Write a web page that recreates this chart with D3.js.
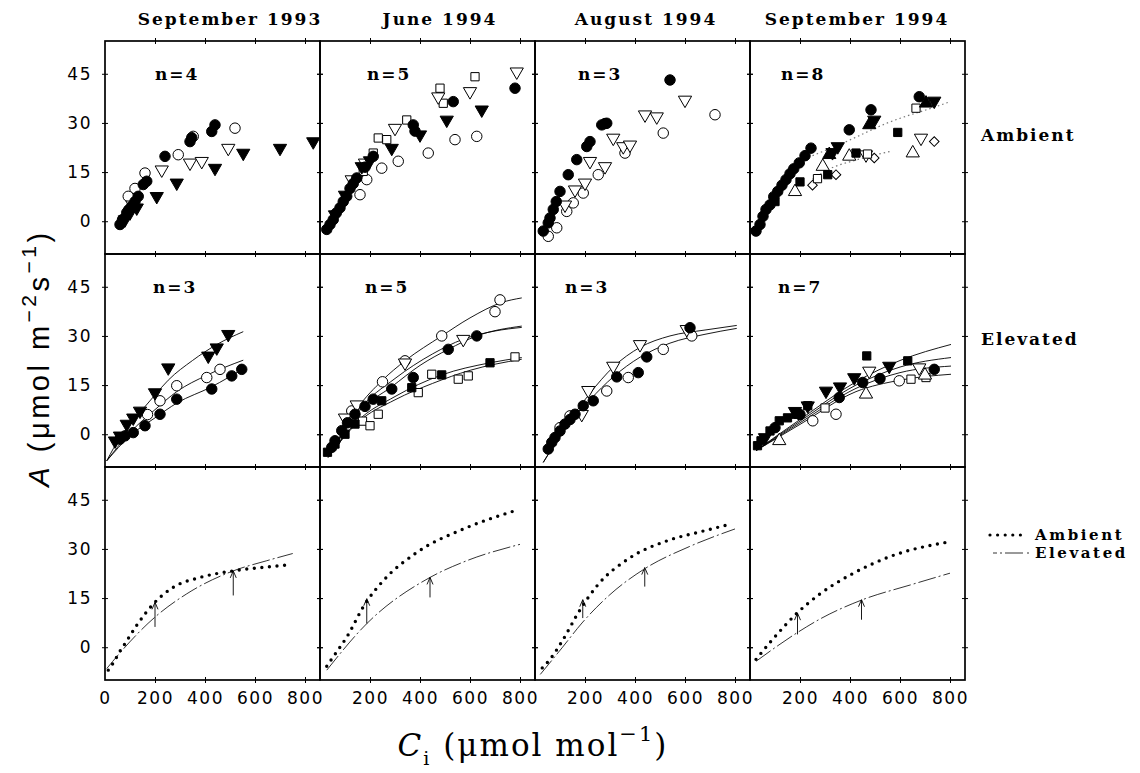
<!DOCTYPE html>
<html>
<head>
<meta charset="utf-8">
<script src="https://cdn.jsdelivr.net/npm/d3@7"></script>
<style>
  body { margin: 0; background: #fff; }
  svg { display: block; }
  .lab { font-family: 'DejaVu Serif', serif; font-weight: bold; font-size: 17px; letter-spacing: 2px; fill: #000; }
  .leg { font-family: 'DejaVu Serif', serif; font-weight: bold; font-size: 15px; letter-spacing: 2.6px; fill: #000; }
</style>
</head>
<body>
<svg id="chart" width="1140" height="773"></svg>
<script>
// ---- data ----
const months = ['September 1993', 'June 1994', 'August 1994', 'September 1994'];
const nAmbient = [4, 5, 3, 8];
const nElevated = [3, 5, 3, 7];
const xTicks = [0, 200, 400, 600, 800];
const yTicks = [0, 15, 30, 45];
const rowNames = ['Ambient', 'Elevated'];

// scatter points: [Ci, A, marker]
// f/o = filled/open; c circle, d down-triangle, u up-triangle, s square, q diamond
const ambSep93 = [
  [93, 7.6, 'oc'], [160, 14.7, 'oc'], [293, 20.3, 'oc'], [353, 25.9, 'oc'], [520, 28.4, 'oc'], [120, 10, 'oc'],
  [110, 5, 'od'], [227, 15.7, 'od'], [340, 17.8, 'od'], [387, 18.3, 'od'], [493, 22.3, 'od'],
  [80, 0.5, 'fd'], [100, 2.6, 'fd'], [127, 4.1, 'fd'], [207, 7.6, 'fd'], [287, 11.7, 'fd'], [440, 16.2, 'fd'],
  [553, 20.8, 'fd'], [700, 22.3, 'fd'], [833, 24.3, 'fd'],
  [60, -1, 'fc'], [70, 0.5, 'fc'], [87, 2.6, 'fc'], [95, 3.5, 'fc'], [107, 4.6, 'fc'], [120, 6, 'fc'],
  [133, 7.6, 'fc'], [153, 11.2, 'fc'], [167, 12.2, 'fc'], [240, 19.8, 'fc'], [340, 24.3, 'fc'],
  [347, 25.5, 'fc'], [427, 27.4, 'fc'], [440, 29.4, 'fc']
];
const ambJun94 = [
  [160, 8.1, 'oc'], [187, 12.7, 'oc'], [247, 16.2, 'oc'], [313, 18.3, 'oc'], [433, 20.8, 'oc'], [540, 24.9, 'oc'], [627, 25.9, 'oc'],
  [173, 15.2, 'os'], [213, 20.8, 'os'], [233, 25.4, 'os'], [267, 24.9, 'os'], [347, 30.9, 'os'],
  [480, 40.6, 'os'], [493, 36.0, 'os'], [620, 44.1, 'os'],
  [127, 12.7, 'od'], [180, 17.8, 'od'], [300, 28.4, 'od'], [473, 38.0, 'od'], [600, 39.6, 'od'], [787, 45.6, 'od'],
  [60, 2, 'fd'], [100, 8, 'fd'], [167, 16.7, 'fd'], [200, 18.5, 'fd'], [287, 22.3, 'fd'], [400, 26.4, 'fd'],
  [507, 30.9, 'fd'], [647, 34.0, 'fd'],
  [27, -2.5, 'fc'], [40, -1, 'fc'], [53, 0.5, 'fc'], [65, 2.5, 'fc'], [80, 4.1, 'fc'], [93, 6, 'fc'],
  [107, 7.6, 'fc'], [120, 10, 'fc'], [133, 11.5, 'fc'], [147, 13.2, 'fc'], [180, 16.5, 'fc'], [213, 19.8, 'fc'],
  [373, 29.4, 'fc'], [380, 27.5, 'fc'], [533, 36.5, 'fc'], [780, 40.6, 'fc']
];
const ambAug94 = [
  [53, -4.6, 'oc'], [87, -2.0, 'oc'], [127, 3.0, 'oc'], [153, 5.6, 'oc'], [193, 8.6, 'oc'], [253, 14.2, 'oc'],
  [360, 20.8, 'oc'], [513, 26.9, 'oc'], [720, 32.5, 'oc'],
  [120, 5, 'od'], [160, 9.6, 'od'], [200, 11.7, 'od'], [220, 18.3, 'od'], [280, 16.7, 'od'], [313, 25.4, 'od'],
  [353, 22.8, 'od'], [380, 23.3, 'od'], [440, 32.5, 'od'], [487, 31.9, 'od'], [600, 37.0, 'od'],
  [33, -3.0, 'fc'], [53, -0.5, 'fc'], [60, 1, 'fc'], [73, 3.6, 'fc'], [85, 6, 'fc'], [100, 9.1, 'fc'],
  [133, 14.2, 'fc'], [167, 18.8, 'fc'], [207, 22.8, 'fc'], [220, 24.3, 'fc'], [267, 29.4, 'fc'],
  [280, 29.8, 'fc'], [287, 29.9, 'fc'], [540, 43.1, 'fc']
];
const ambSep94 = [
  [651, 20.8, 'ou'], [291, 16.7, 'ou'], [397, 19.8, 'ou'], [180, 9, 'ou'],
  [684, 25.4, 'od'], [464, 20.3, 'od'],
  [737, 24.3, 'oq'], [497, 19.3, 'oq'], [344, 14.2, 'oq'], [250, 11, 'oq'],
  [664, 34.5, 'os'], [470, 20.5, 'os'], [270, 13, 'os'],
  [591, 27.1, 'fs'], [311, 14.2, 'fs'], [424, 20.8, 'fs'], [200, 12, 'fs'], [100, 6, 'fs'],
  [737, 36.7, 'fd'], [497, 30.9, 'fd'], [351, 22.8, 'fd'], [330, 21, 'fd'],
  [477, 29.4, 'fu'], [317, 20.3, 'fu'], [704, 36.0, 'fu'],
  [24, -3.0, 'fc'], [40, -1, 'fc'], [52, 1.5, 'fc'], [64, 3.6, 'fc'], [80, 5, 'fc'], [95, 7.5, 'fc'],
  [111, 9.1, 'fc'], [128, 11, 'fc'], [144, 12.7, 'fc'], [160, 14.5, 'fc'], [175, 16, 'fc'], [197, 17.8, 'fc'],
  [220, 20, 'fc'], [244, 22.3, 'fc'], [397, 27.9, 'fc'], [484, 34.0, 'fc'], [677, 38.0, 'fc']
];
const elvSep93 = [
  [170, 6, 'oc'], [220, 10.2, 'oc'], [287, 14.8, 'oc'], [407, 17.3, 'oc'], [460, 19.8, 'oc'],
  [40, -2, 'fd'], [60, -0.5, 'fd'], [87, 3.1, 'fd'], [113, 5, 'fd'], [140, 7.1, 'fd'], [200, 12.7, 'fd'],
  [253, 20.3, 'fd'], [413, 23.9, 'fd'], [447, 26.4, 'fd'], [493, 30.5, 'fd'],
  [60, -1.5, 'fc'], [80, -0.5, 'fc'], [113, 0.5, 'fc'], [160, 2.6, 'fc'], [220, 6.1, 'fc'], [287, 10.7, 'fc'],
  [427, 13.8, 'fc'], [507, 17.8, 'fc'], [547, 19.8, 'fc']
];
const elvJun94 = [
  [127, 7.1, 'oc'], [250, 16, 'oc'], [340, 22.4, 'oc'], [487, 30.0, 'oc'], [700, 37.4, 'oc'], [720, 41.0, 'oc'],
  [100, 5, 'od'], [147, 9, 'od'], [340, 21.8, 'od'], [573, 29.0, 'od'],
  [170, 4, 'os'], [200, 2.6, 'os'], [233, 6.1, 'os'], [393, 12.7, 'os'], [447, 18.3, 'os'], [553, 16.8, 'os'],
  [593, 17.8, 'os'], [780, 23.6, 'os'],
  [30, -5.5, 'fs'], [60, -3.0, 'fs'], [100, 0, 'fs'], [140, 3.1, 'fs'], [247, 10.2, 'fs'], [367, 14.2, 'fs'],
  [487, 18.1, 'fs'], [680, 21.8, 'fs'],
  [47, -4.0, 'fc'], [60, -2, 'fc'], [87, 1.1, 'fc'], [110, 3.5, 'fc'], [140, 6.1, 'fc'], [180, 8.5, 'fc'],
  [213, 10.7, 'fc'], [287, 13.8, 'fc'], [373, 17.3, 'fc'], [513, 25.9, 'fc'], [627, 30.0, 'fc']
];
const elvAug94 = [
  [100, 2, 'oc'], [140, 5.6, 'oc'], [287, 13.2, 'oc'], [373, 17.3, 'oc'], [513, 25.9, 'oc'], [627, 30.0, 'oc'],
  [187, 6.1, 'od'], [213, 13.4, 'od'], [313, 20.8, 'od'], [420, 27.4, 'od'], [607, 32.0, 'od'],
  [53, -4.5, 'fc'], [67, -2.5, 'fc'], [80, -1.0, 'fc'], [100, 1, 'fc'], [120, 3.1, 'fc'], [140, 4.5, 'fc'],
  [160, 6.1, 'fc'], [193, 8.7, 'fc'], [233, 10.2, 'fc'], [327, 17.5, 'fc'], [413, 18.8, 'fc'],
  [447, 23.6, 'fc'], [620, 32.5, 'fc']
];
const elvSep94 = [
  [251, 4.1, 'oc'], [344, 6.1, 'oc'], [597, 16.3, 'oc'],
  [477, 19.3, 'od'], [677, 20.3, 'od'],
  [300, 8, 'os'], [644, 16.8, 'os'], [704, 17.3, 'os'],
  [117, -2.0, 'ou'], [464, 12.2, 'ou'], [700, 18, 'ou'],
  [30, -3.5, 'fs'], [44, -2.0, 'fs'], [80, 1, 'fs'], [117, 4.1, 'fs'], [150, 5, 'fs'], [184, 6.1, 'fs'],
  [231, 8.7, 'fs'], [467, 23.9, 'fs'], [631, 22.4, 'fs'],
  [60, -1, 'fd'], [180, 7, 'fd'], [231, 8.7, 'fd'], [304, 13.2, 'fd'], [360, 14.5, 'fd'], [417, 17.3, 'fd'], [557, 20.8, 'fd'],
  [100, 2, 'fc'], [200, 6, 'fc'], [357, 11.2, 'fc'], [451, 15.8, 'fc'], [520, 17, 'fc'], [737, 19.8, 'fc']
];

// fitted curves, traced as [Ci, A]
const ambSep94Fits = [
  [[250, 20], [376, 24], [550, 30], [764, 35.5], [800, 36.5]],
  [[250, 12.8], [311, 15.7], [430, 18.8], [560, 21.3]]
];
const elvSep93Fits = [
  [[7, -8.1], [60, -1], [113, 4.1], [200, 12], [253, 16.5], [350, 22.5], [450, 27.5], [553, 31.3]],
  [[7, -8.1], [100, 0.5], [200, 7.5], [287, 13], [407, 18], [553, 22.6]],
  [[7, -8.1], [100, -0.5], [200, 5], [287, 9.5], [427, 14.5], [553, 20]]
];
const elvJun94Fits = [
  [[33, -7.1], [150, 8], [250, 16.5], [340, 22.4], [487, 30.0], [600, 35.5], [727, 40.2], [807, 41.6]],
  [[33, -7], [150, 7], [300, 17], [450, 24.5], [573, 29.0], [700, 31.5], [807, 32.6]],
  [[33, -7], [150, 6.5], [287, 14.5], [400, 21], [513, 25.9], [627, 30.0], [807, 33.0]],
  [[33, -7], [150, 4], [300, 11.5], [487, 18.1], [680, 21.8], [807, 23.4]],
  [[33, -7], [150, 3.5], [300, 10.5], [450, 15.5], [600, 19.5], [807, 22.9]]
];
const elvAug94Fits = [
  [[33, -8.6], [120, 2], [220, 12.5], [313, 20.5], [420, 26.5], [540, 30], [680, 31.8], [807, 33.2]],
  [[33, -8.6], [120, 1.5], [220, 10.5], [313, 17.5], [420, 23.5], [540, 27.8], [680, 30.5], [807, 32.3]]
];
const elvSep94Fits = [
  [[24, -5], [200, 4.5], [424, 16], [600, 22.5], [804, 27.4]],
  [[24, -5], [200, 4], [424, 15], [600, 20.5], [804, 23.4]],
  [[24, -5], [200, 3.5], [424, 14], [600, 18.8], [804, 20.8]],
  [[24, -5], [200, 3], [424, 13], [600, 16.5], [804, 18.3]]
];

// mean response curves (bottom row)
const meanAmbient = [
  [[13, -7], [33, -4.8], [60, -1.2], [80, 1.1], [127, 6.7], [193, 13.2], [273, 18.3], [380, 21.3], [513, 23.3], [647, 24.5], [747, 25.2]],
  [[27, -5.8], [53, -2.9], [107, 3.1], [180, 13.2], [253, 20.3], [387, 28.9], [587, 36.5], [773, 41.5]],
  [[29, -6.3], [60, -3.7], [108, 1.8], [180, 11.4], [251, 19.0], [378, 27.2], [537, 32.7], [665, 35.3], [784, 37.6]],
  [[24, -3.7], [84, 1.8], [188, 10.4], [275, 16.0], [402, 22.1], [561, 27.7], [800, 32.2]]
];
const meanElevated = [
  [[7, -6.5], [60, -1.7], [200, 9.2], [327, 16.3], [513, 23.3], [647, 26.4], [751, 28.6]],
  [[27, -7.0], [187, 7.2], [440, 21.3], [587, 26.4], [800, 31.4]],
  [[21, -8.3], [108, -0.2], [188, 7.4], [299, 16.0], [442, 24.1], [617, 30.7], [800, 36.1]],
  [[24, -4.3], [188, 4.4], [275, 8.4], [450, 14.5], [641, 19.0], [800, 22.6]]
];
// arrows: [Ci, from A, to A]
const arrows = [
  [[200, 6.2, 13.7], [513, 15.8, 23.3]],
  [[187, 7.2, 14.8], [440, 15.2, 21.3]],
  [[191, 8.9, 14.5], [439, 18.5, 24.3]],
  [[190, 3.9, 10.4], [446, 8.4, 14.5]]
];

const ambientPts = [ambSep93, ambJun94, ambAug94, ambSep94];
const elevatedPts = [elvSep93, elvJun94, elvAug94, elvSep94];
const elevatedFits = [elvSep93Fits, elvJun94Fits, elvAug94Fits, elvSep94Fits];

// ---- layout ----
const padLeft = 105, padTop = 41, panelW = 215, panelH = 213;
const titleX = [230, 440, 646, 857];
const nLabelX = [[50, 47, 43, 31], [48, 45, 30, 28]];

const svg = d3.select('#chart');
const x = d3.scaleLinear().domain([0, 860]).range([0, panelW]);
const y = d3.scaleLinear().domain([-10, 55]).range([panelH, 0]);
const line = d3.line().x(d => x(d[0])).y(d => y(d[1])).curve(d3.curveMonotoneX);

const markers = {
  c: { type: d3.symbolCircle, size: 86, rot: 0 },
  d: { type: d3.symbolTriangle, size: 76, rot: 180 },
  u: { type: d3.symbolTriangle, size: 76, rot: 0 },
  s: { type: d3.symbolSquare, size: 68, rot: 0 },
  q: { type: d3.symbolSquare, size: 46, rot: 45 }
};

function panel (row, col) {
  return svg.append('g')
    .attr('transform', 'translate(' + (padLeft + col * panelW) + ',' + (padTop + row * panelH) + ')');
}

function drawTicks (g) {
  [3, -3].forEach(s => {
    g.append('g').attr('transform', 'translate(0,' + panelH + ')')
      .call(d3.axisBottom(x).tickValues(xTicks.slice(1)).tickSize(s).tickFormat(''));
    g.append('g')
      .call(d3.axisTop(x).tickValues(xTicks.slice(1)).tickSize(s).tickFormat(''));
    g.append('g')
      .call(d3.axisLeft(y).tickValues(yTicks).tickSize(s).tickFormat(''));
    g.append('g').attr('transform', 'translate(' + panelW + ',0)')
      .call(d3.axisRight(y).tickValues(yTicks).tickSize(s).tickFormat(''));
  });
  g.selectAll('.domain').remove();
  g.selectAll('.tick line').attr('stroke', '#000').attr('stroke-width', 1);
}

function drawPoints (g, pts) {
  g.selectAll('path.pt').data(pts).enter().append('path')
    .attr('class', 'pt')
    .attr('d', d => d3.symbol().type(markers[d[2][1]].type).size(markers[d[2][1]].size)())
    .attr('transform', d => 'translate(' + x(d[0]) + ',' + y(d[1]) + ') rotate(' + markers[d[2][1]].rot + ')')
    .attr('fill', d => d[2][0] === 'f' ? '#000' : '#fff')
    .attr('stroke', '#000')
    .attr('stroke-width', 1);
}

function nLabel (g, row, col, n) {
  g.append('text').attr('class', 'lab')
    .attr('x', nLabelX[row][col]).attr('y', 39)
    .text('n=' + n);
}

for (let col = 0; col < 4; col++) {
  // ambient row
  let g = panel(0, col);
  drawTicks(g);
  if (col === 3) {
    ambSep94Fits.forEach(f => {
      g.append('path').attr('d', line(f)).attr('fill', 'none')
        .attr('stroke', '#777').attr('stroke-width', 1.2).attr('stroke-dasharray', '1.5,3');
    });
  }
  drawPoints(g, ambientPts[col]);
  nLabel(g, 0, col, nAmbient[col]);

  // elevated row
  g = panel(1, col);
  drawTicks(g);
  elevatedFits[col].forEach(f => {
    g.append('path').attr('d', line(f)).attr('fill', 'none')
      .attr('stroke', '#000').attr('stroke-width', 0.9);
  });
  drawPoints(g, elevatedPts[col]);
  nLabel(g, 1, col, nElevated[col]);

  // mean curves row
  g = panel(2, col);
  drawTicks(g);
  g.append('path').attr('d', line(meanElevated[col])).attr('fill', 'none')
    .attr('stroke', '#000').attr('stroke-width', 0.8).attr('stroke-dasharray', '18,3,2,3');
  g.append('path').attr('d', line(meanAmbient[col])).attr('fill', 'none')
    .attr('stroke', '#000').attr('stroke-width', 3.4).attr('stroke-linecap', 'round')
    .attr('stroke-dasharray', '0,7.6');
  arrows[col].forEach(a => {
    const ax = x(a[0]), y0 = y(a[1]), y1 = y(a[2]);
    g.append('path')
      .attr('d', 'M' + ax + ',' + y0 + 'V' + y1 + 'M' + (ax - 3) + ',' + (y1 + 7) + 'L' + ax + ',' + y1 + 'L' + (ax + 3) + ',' + (y1 + 7))
      .attr('fill', 'none').attr('stroke', '#000').attr('stroke-width', 0.9);
  });
}

// frames
for (let row = 0; row < 3; row++) {
  for (let col = 0; col < 4; col++) {
    svg.append('rect')
      .attr('x', padLeft + col * panelW).attr('y', padTop + row * panelH)
      .attr('width', panelW).attr('height', panelH)
      .attr('fill', 'none').attr('stroke', '#000').attr('stroke-width', 1.7);
  }
}

// tick labels
const tickFont = g => g.selectAll('text')
  .attr('font-family', "'DejaVu Sans', sans-serif").attr('font-size', 17)
  .attr('letter-spacing', '1.5px').attr('fill', '#000');
for (let row = 0; row < 3; row++) {
  const g = svg.append('g').attr('transform', 'translate(' + padLeft + ',' + (padTop + row * panelH) + ')')
    .call(d3.axisLeft(y).tickValues(yTicks).tickSize(0).tickPadding(13));
  g.select('.domain').remove();
  tickFont(g);
}
for (let col = 0; col < 4; col++) {
  const g = svg.append('g')
    .attr('transform', 'translate(' + (padLeft + col * panelW) + ',' + (padTop + 3 * panelH) + ')')
    .call(d3.axisBottom(x).tickValues(col === 0 ? xTicks : xTicks.slice(1)).tickSize(0).tickPadding(12));
  g.select('.domain').remove();
  tickFont(g);
}

// column titles
months.forEach((m, i) => {
  svg.append('text').attr('class', 'lab')
    .attr('x', titleX[i]).attr('y', 25).attr('text-anchor', 'middle').text(m);
});

// row labels
rowNames.forEach((r, i) => {
  svg.append('text').attr('class', 'lab')
    .attr('x', 981).attr('y', i === 0 ? 141 : 345).text(r);
});

// legend
const legend = svg.append('g');
legend.append('line').attr('x1', 990).attr('x2', 1028).attr('y1', 535).attr('y2', 535)
  .attr('stroke', '#000').attr('stroke-width', 3.2).attr('stroke-linecap', 'round').attr('stroke-dasharray', '0,7.6');
legend.append('line').attr('x1', 993).attr('x2', 1029).attr('y1', 553).attr('y2', 553)
  .attr('stroke', '#000').attr('stroke-width', 0.8).attr('stroke-dasharray', '4,3,2,3,18');
legend.append('text').attr('class', 'leg').attr('x', 1035).attr('y', 540).text('Ambient');
legend.append('text').attr('class', 'leg').attr('x', 1035).attr('y', 558).text('Elevated');

// y axis title
const yt = svg.append('text')
  .attr('transform', 'translate(49,358) rotate(-90)')
  .attr('text-anchor', 'middle')
  .attr('font-family', "'Liberation Sans', Arial, sans-serif")
  .attr('font-size', 29).attr('letter-spacing', '3.5px');
yt.append('tspan').attr('font-style', 'italic').text('A');
yt.append('tspan').text(' (μmol m');
yt.append('tspan').attr('font-size', 21).attr('dy', -13).text('−2');
yt.append('tspan').attr('dy', 13).text('s');
yt.append('tspan').attr('font-size', 21).attr('dy', -13).text('−1');
yt.append('tspan').attr('dy', 13).text(')');

// x axis title
const xt = svg.append('text')
  .attr('x', 533).attr('y', 756)
  .attr('text-anchor', 'middle')
  .attr('font-family', "'DejaVu Serif', serif")
  .attr('font-size', 31).attr('letter-spacing', '2px');
xt.append('tspan').attr('font-style', 'italic').text('C');
xt.append('tspan').attr('font-size', 19).attr('dy', 9).text('i');
xt.append('tspan').attr('dy', -9).text('  (μmol mol');
xt.append('tspan').attr('font-size', 21).attr('dy', -15).text('−1');
xt.append('tspan').attr('dy', 15).text(')');
</script>
</body>
</html>
